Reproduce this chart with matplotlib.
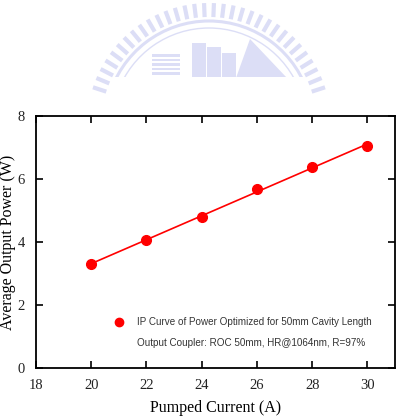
import numpy as np
import matplotlib.pyplot as plt
from matplotlib.patches import Rectangle, Polygon, Arc

# Data
current = [20, 22, 24, 26, 28, 30]
power = [3.30, 4.06, 4.80, 5.68, 6.38, 7.05]
x_ticks = [18, 20, 22, 24, 26, 28, 30]
y_ticks = [0, 2, 4, 6, 8]

serif = ['Liberation Serif', 'DejaVu Serif']
sans = ['Liberation Sans', 'DejaVu Sans']

fig = plt.figure(figsize=(4.02, 4.16), dpi=100)

# faint watermark logo in the background (pixel coordinates)
bg = fig.add_axes([0, 0, 1, 1], zorder=0)
bg.set_xlim(0, 402)
bg.set_ylim(416, 0)
bg.axis('off')
wm = '#dcdef6'
cx, cy = 209, 125
for ang in np.linspace(np.deg2rad(198), np.deg2rad(342), 32):
    r0, r1 = 108, 122
    bg.plot([cx + r0 * np.cos(ang), cx + r1 * np.cos(ang)],
            [cy + r0 * np.sin(ang), cy + r1 * np.sin(ang)],
            color=wm, lw=3.0, solid_capstyle='butt')
bg.add_patch(Arc((cx, cy), 2 * 104, 2 * 104, theta1=195, theta2=345,
                 color=wm, lw=2.2))
bg.add_patch(Arc((cx, cy), 2 * 97, 2 * 97, theta1=200, theta2=340,
                 color=wm, lw=1.0))
for i in range(5):
    bg.add_patch(Rectangle((152, 54 + i * 4.6), 28, 2.6, color=wm, lw=0))
bg.add_patch(Rectangle((192, 43), 14, 35, color=wm, lw=0))
bg.add_patch(Rectangle((207, 47), 14, 31, color=wm, lw=0))
bg.add_patch(Rectangle((222, 53), 14, 25, color=wm, lw=0))
bg.add_patch(Polygon([[236, 78], [250, 39], [287, 78]], color=wm, lw=0))
bg.add_patch(Rectangle((0, 77), 402, 30, color='white', lw=0))

ax = fig.add_axes([0.0896, 0.1154, 0.893, 0.6058], zorder=1)
ax.patch.set_alpha(0)

fit = np.polyfit(current, power, 1)
xf = np.array([current[0], current[-1]])
ax.plot(xf, np.polyval(fit, xf), color='#ff0000', lw=1.2)
ax.plot(current, power, 'o', color='#ff0000', ms=7, mec='#ff0000')

ax.set_xlim(18, 31)
ax.set_ylim(0, 8)
ax.set_xticks(x_ticks)
ax.set_yticks(y_ticks)
ax.tick_params(direction='in', top=True, right=True, length=5, width=1.2,
               labelsize=10.5, pad=8)
for lab in ax.get_xticklabels() + ax.get_yticklabels():
    lab.set_family(serif)
    lab.set_color('#222222')
for s in ax.spines.values():
    s.set_linewidth(1.3)

ax.set_xlabel('Pumped Current (A)', family=serif, fontsize=11.5)
ax.set_ylabel('Average Output Power (W)', family=serif, fontsize=11.5)
ax.xaxis.set_label_coords(0.5, -0.128)
ax.yaxis.set_label_coords(-0.056, 0.5)

# legend drawn by hand as in original
ax.plot([21.0], [1.46], 'o', color='#ff0000', ms=6)
ax.text(21.65, 1.46, 'IP Curve of Power Optimized for 50mm Cavity Length',
        family=sans, fontsize=7.1, color='#333333', va='center')
ax.text(21.65, 0.8, 'Output Coupler: ROC 50mm, HR@1064nm, R=97%',
        family=sans, fontsize=7.1, color='#333333', va='center')

plt.savefig('out.png', dpi=100)
